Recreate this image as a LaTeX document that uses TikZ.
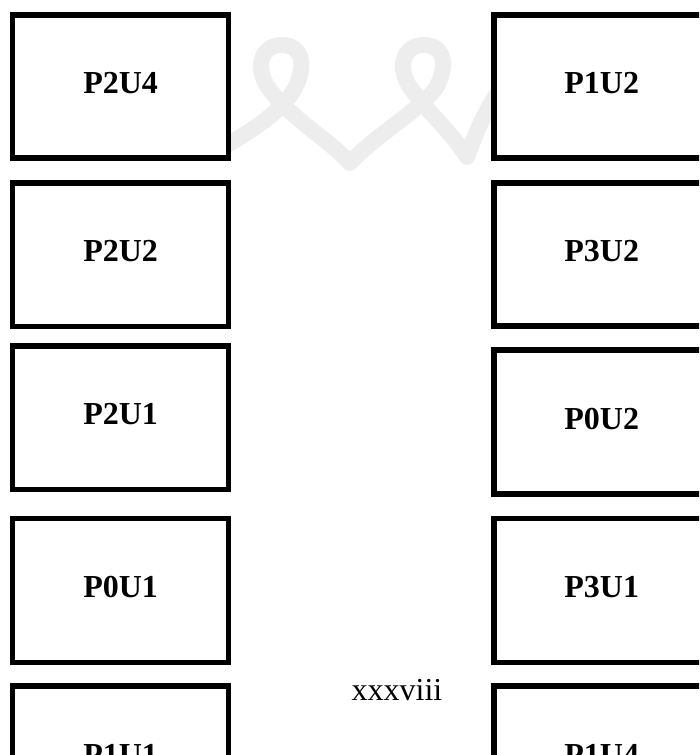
\documentclass[tikz,border=0pt]{standalone}
\usepackage{fontspec}
\setmainfont{Liberation Serif}
\begin{document}
\begin{tikzpicture}[x=1pt,y=-1pt,
  unitbox/.style={draw=black, fill=white, line width=5.5pt, rectangle, inner sep=0pt,
    minimum width=216pt, font=\fontsize{32}{36}\selectfont\bfseries, text depth=7pt},
  pagenum/.style={inner sep=0pt, font=\fontsize{32}{36}\selectfont, anchor=base},
  wm/.style={draw=black!7, line width=16pt, line cap=round, line join=round}]
\useasboundingbox (0,0) rectangle (699,755);
\clip (0,0) rectangle (699,755);
% faint watermark
\draw[wm] (215,152) .. controls (250,132) and (282,112) .. (295,88)
  .. controls (308,62) and (300,45) .. (282,45)
  .. controls (263,45) and (255,64) .. (266,84)
  .. controls (285,115) and (330,140) .. (350,163)
  .. controls (372,138) and (420,110) .. (436,88)
  .. controls (450,62) and (442,45) .. (424,45)
  .. controls (405,45) and (397,64) .. (408,84)
  .. controls (425,110) and (450,130) .. (467,157)
  .. controls (475,135) and (485,110) .. (500,90);
% left column
\node[unitbox, minimum height=143.25pt] (L1) at (120.6,86.4) {P2U4};
\node[unitbox, minimum height=143.5pt] (L2) at (120.6,254.5) {P2U2};
\node[unitbox, minimum height=143.5pt] (L3) at (120.6,417.75) {P2U1};
\node[unitbox, minimum height=144pt] (L4) at (120.6,590.25) {P0U1};
\node[unitbox, minimum height=144pt] (L5) at (120.6,758) {P1U1};
% right column
\node[unitbox, minimum height=143.25pt] (R1) at (601.75,86.4) {P1U2};
\node[unitbox, minimum height=143.25pt] (R2) at (601.75,254.4) {P3U2};
\node[unitbox, minimum height=143.75pt] (R3) at (601.75,422.1) {P0U2};
\node[unitbox, minimum height=144pt] (R4) at (601.75,590.25) {P3U1};
\node[unitbox, minimum height=144pt] (R5) at (601.75,758) {P1U4};
% page number
\node[pagenum] (pg) at (397,700.7) {xxxviii};
\end{tikzpicture}
\end{document}
